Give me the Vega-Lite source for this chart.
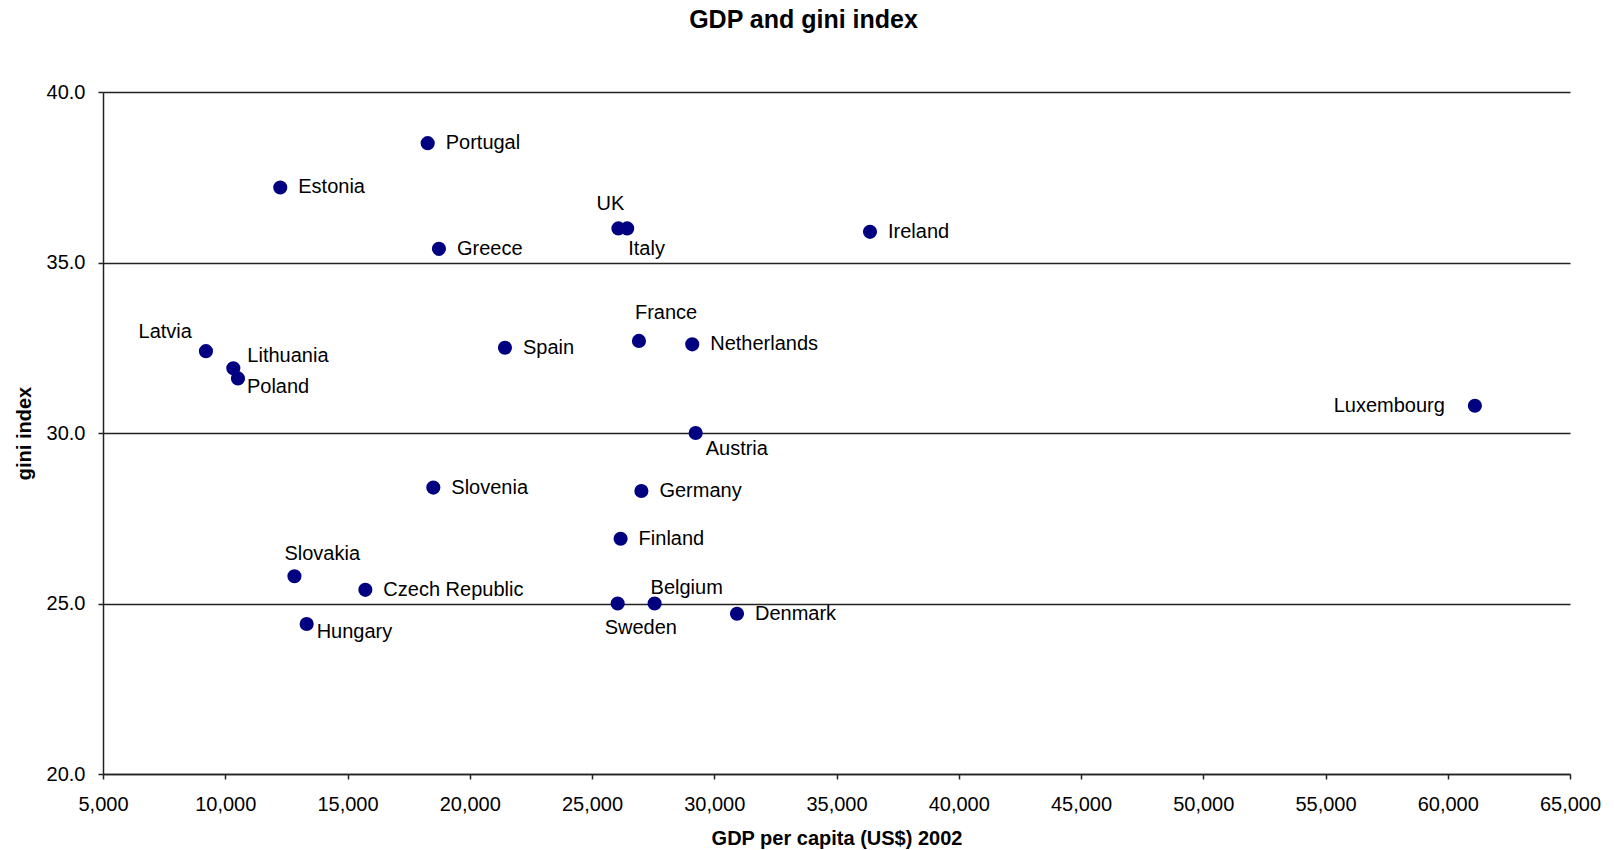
{
  "$schema": "https://vega.github.io/schema/vega-lite/v6.json",
  "width": 1467,
  "height": 682,
  "autosize": {"type": "none"},
  "padding": {"left": 103, "top": 92, "right": 44, "bottom": 76},
  "background": "white",
  "config": {"view": {"stroke": null}, "font": "Liberation Sans"},
  "title": {"text": "GDP and gini index", "fontSize": 25, "fontWeight": "bold", "font": "Liberation Sans", "color": "black", "dx": -33, "offset": 49},
  "data": {"values": [
    {"country": "Portugal", "gdp": 18280, "gini": 38.5},
    {"country": "Estonia", "gdp": 12250, "gini": 37.2},
    {"country": "Greece", "gdp": 18740, "gini": 35.4},
    {"country": "Latvia", "gdp": 9210, "gini": 32.4},
    {"country": "Lithuania", "gdp": 10330, "gini": 31.9},
    {"country": "Poland", "gdp": 10520, "gini": 31.6},
    {"country": "Spain", "gdp": 21440, "gini": 32.5},
    {"country": "UK", "gdp": 26080, "gini": 36.0},
    {"country": "Italy", "gdp": 26440, "gini": 36.0},
    {"country": "Ireland", "gdp": 36370, "gini": 35.9},
    {"country": "France", "gdp": 26920, "gini": 32.7},
    {"country": "Netherlands", "gdp": 29100, "gini": 32.6},
    {"country": "Austria", "gdp": 29240, "gini": 30.0},
    {"country": "Slovenia", "gdp": 18510, "gini": 28.4},
    {"country": "Germany", "gdp": 27020, "gini": 28.3},
    {"country": "Finland", "gdp": 26170, "gini": 26.9},
    {"country": "Slovakia", "gdp": 12830, "gini": 25.8},
    {"country": "Czech Republic", "gdp": 15730, "gini": 25.4},
    {"country": "Hungary", "gdp": 13330, "gini": 24.4},
    {"country": "Sweden", "gdp": 26050, "gini": 25.0},
    {"country": "Belgium", "gdp": 27560, "gini": 25.0},
    {"country": "Denmark", "gdp": 30930, "gini": 24.7},
    {"country": "Luxembourg", "gdp": 61110, "gini": 30.8}
  ]},
  "encoding": {
    "x": {
      "field": "gdp", "type": "quantitative",
      "scale": {"domain": [5000, 65000], "nice": false, "zero": false},
      "axis": {
        "title": "GDP per capita (US$) 2002",
        "values": [5000, 10000, 15000, 20000, 25000, 30000, 35000, 40000, 45000, 50000, 55000, 60000, 65000],
        "format": ",.0f", "grid": false, "labelFlush": false, "labelOverlap": false,
        "domainColor": "#222", "domainWidth": 1.5, "tickColor": "#222", "tickWidth": 1.5, "tickSize": 5,
        "labelFont": "Liberation Sans", "labelFontSize": 20, "labelColor": "black", "labelPadding": 15,
        "titleFont": "Liberation Sans", "titleFontSize": 20, "titleFontWeight": "bold", "titleColor": "black", "titlePadding": 14
      }
    },
    "y": {
      "field": "gini", "type": "quantitative",
      "scale": {"domain": [20, 40], "nice": false, "zero": false},
      "axis": {
        "title": "gini index",
        "values": [20, 25, 30, 35, 40],
        "format": ".1f", "grid": true, "gridColor": "#222", "gridWidth": 1.5, "labelFlush": false,
        "domainColor": "#222", "domainWidth": 1.5, "tickColor": "#222", "tickWidth": 1.5, "tickSize": 5,
        "labelFont": "Liberation Sans", "labelFontSize": 20, "labelColor": "black", "labelPadding": 13,
        "titleFont": "Liberation Sans", "titleFontSize": 20, "titleFontWeight": "bold", "titleColor": "black", "titlePadding": 12
      }
    }
  },
  "layer": [
    {"mark": {"type": "circle", "size": 200, "color": "#000080", "opacity": 1}},
    {
      "transform": [{"filter": {"field": "country", "oneOf": ["Portugal", "Estonia", "Greece", "Spain", "Ireland", "Netherlands", "Slovenia", "Germany", "Finland", "Czech Republic", "Denmark"]}}],
      "mark": {"type": "text", "align": "left", "baseline": "middle", "dx": 18, "dy": 0, "fontSize": 20, "font": "Liberation Sans", "color": "black"},
      "encoding": {"text": {"field": "country"}}
    },
    {
      "transform": [{"filter": {"field": "country", "equal": "Latvia"}}],
      "mark": {"type": "text", "align": "right", "baseline": "middle", "dx": -14, "dy": -19, "fontSize": 20, "font": "Liberation Sans", "color": "black"},
      "encoding": {"text": {"field": "country"}}
    },
    {
      "transform": [{"filter": {"field": "country", "equal": "Lithuania"}}],
      "mark": {"type": "text", "align": "left", "baseline": "middle", "dx": 14, "dy": -12, "fontSize": 20, "font": "Liberation Sans", "color": "black"},
      "encoding": {"text": {"field": "country"}}
    },
    {
      "transform": [{"filter": {"field": "country", "equal": "Poland"}}],
      "mark": {"type": "text", "align": "left", "baseline": "middle", "dx": 9, "dy": 9, "fontSize": 20, "font": "Liberation Sans", "color": "black"},
      "encoding": {"text": {"field": "country"}}
    },
    {
      "transform": [{"filter": {"field": "country", "equal": "UK"}}],
      "mark": {"type": "text", "align": "center", "baseline": "middle", "dx": -8, "dy": -24, "fontSize": 20, "font": "Liberation Sans", "color": "black"},
      "encoding": {"text": {"field": "country"}}
    },
    {
      "transform": [{"filter": {"field": "country", "equal": "Italy"}}],
      "mark": {"type": "text", "align": "left", "baseline": "middle", "dx": 1, "dy": 21, "fontSize": 20, "font": "Liberation Sans", "color": "black"},
      "encoding": {"text": {"field": "country"}}
    },
    {
      "transform": [{"filter": {"field": "country", "equal": "France"}}],
      "mark": {"type": "text", "align": "left", "baseline": "middle", "dx": -4, "dy": -28, "fontSize": 20, "font": "Liberation Sans", "color": "black"},
      "encoding": {"text": {"field": "country"}}
    },
    {
      "transform": [{"filter": {"field": "country", "equal": "Austria"}}],
      "mark": {"type": "text", "align": "left", "baseline": "middle", "dx": 10, "dy": 16, "fontSize": 20, "font": "Liberation Sans", "color": "black"},
      "encoding": {"text": {"field": "country"}}
    },
    {
      "transform": [{"filter": {"field": "country", "equal": "Slovakia"}}],
      "mark": {"type": "text", "align": "left", "baseline": "middle", "dx": -10, "dy": -22, "fontSize": 20, "font": "Liberation Sans", "color": "black"},
      "encoding": {"text": {"field": "country"}}
    },
    {
      "transform": [{"filter": {"field": "country", "equal": "Hungary"}}],
      "mark": {"type": "text", "align": "left", "baseline": "middle", "dx": 10, "dy": 8, "fontSize": 20, "font": "Liberation Sans", "color": "black"},
      "encoding": {"text": {"field": "country"}}
    },
    {
      "transform": [{"filter": {"field": "country", "equal": "Sweden"}}],
      "mark": {"type": "text", "align": "left", "baseline": "middle", "dx": -13, "dy": 24, "fontSize": 20, "font": "Liberation Sans", "color": "black"},
      "encoding": {"text": {"field": "country"}}
    },
    {
      "transform": [{"filter": {"field": "country", "equal": "Belgium"}}],
      "mark": {"type": "text", "align": "left", "baseline": "middle", "dx": -4, "dy": -16, "fontSize": 20, "font": "Liberation Sans", "color": "black"},
      "encoding": {"text": {"field": "country"}}
    },
    {
      "transform": [{"filter": {"field": "country", "equal": "Luxembourg"}}],
      "mark": {"type": "text", "align": "right", "baseline": "middle", "dx": -30, "dy": 0, "fontSize": 20, "font": "Liberation Sans", "color": "black"},
      "encoding": {"text": {"field": "country"}}
    }
  ]
}
